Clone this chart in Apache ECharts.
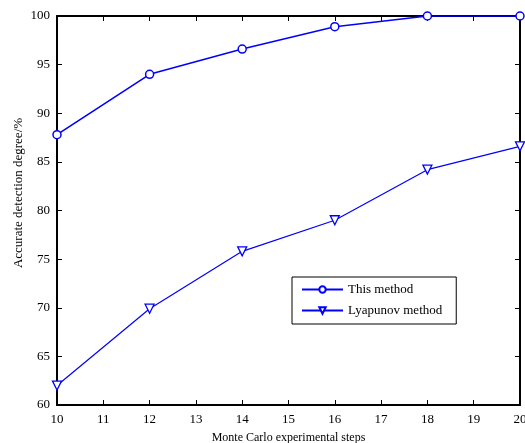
<!DOCTYPE html>
<html>
<head>
<meta charset="utf-8">
<script src="https://cdn.jsdelivr.net/npm/echarts@6/dist/echarts.min.js"></script>
<style>
  html, body { margin: 0; padding: 0; background: #fff; }
  #chart { width: 525px; height: 443px; }
</style>
</head>
<body>
<div id="chart"></div>
<script>
// data
const steps = [10, 12, 14, 16, 18, 20]
const thisMethod = [87.8, 94.0, 96.6, 98.9, 100, 100]
const lyapunov = [62.0, 69.9, 75.8, 79.0, 84.2, 86.6]
const seriesNames = ['This method', 'Lyapunov method']

const FONT = '"Liberation Serif", "DejaVu Serif", serif'
const BLUE = '#0000ff'

function pairs(ys) {
    return steps.map((x, i) => [x, ys[i]])
}

const myChart = echarts.init(document.getElementById('chart'))

const tickStyle = { show: true, inside: true, length: 5, lineStyle: { color: '#000', width: 1 } }
const axisLineStyle = { show: true, lineStyle: { color: '#000', width: 2 } }

myChart.setOption({
    animation: false,
    grid: { left: 57, right: 5, top: 16, bottom: 38, outerBoundsMode: 'none', containLabel: false },
    legend: {
        data: [
            { name: seriesNames[0] },
            { name: seriesNames[1] }
        ],
        orient: 'vertical',
        left: 292,
        top: 277,
        width: 170,
        padding: [6, 14, 7, 9],
        itemGap: 8,
        itemWidth: 41,
        itemHeight: 8,
        borderColor: '#000',
        borderWidth: 1,
        backgroundColor: '#fff',
        textStyle: { fontFamily: FONT, fontSize: 13, color: '#000' }
    },
    xAxis: [
        {
            type: 'value',
            min: 10, max: 20, interval: 1,
            name: 'Monte Carlo experimental steps',
            nameLocation: 'middle',
            nameGap: 27,
            nameTextStyle: { fontFamily: FONT, fontSize: 12, color: '#000' },
            axisLine: axisLineStyle,
            axisTick: tickStyle,
            axisLabel: { fontFamily: FONT, fontSize: 13, color: '#000', margin: 8 },
            splitLine: { show: false }
        },
        {
            type: 'value', position: 'top',
            min: 10, max: 20, interval: 1,
            axisLine: axisLineStyle,
            axisTick: tickStyle,
            axisLabel: { show: false },
            splitLine: { show: false }
        }
    ],
    yAxis: [
        {
            type: 'value',
            min: 60, max: 100, interval: 5,
            axisLine: axisLineStyle,
            axisTick: tickStyle,
            axisLabel: { fontFamily: FONT, fontSize: 13, color: '#000', margin: 7 },
            splitLine: { show: false }
        },
        {
            type: 'value', position: 'right',
            min: 60, max: 100, interval: 5,
            axisLine: axisLineStyle,
            axisTick: tickStyle,
            axisLabel: { show: false },
            splitLine: { show: false }
        }
    ],
    graphic: [
        {
            type: 'text',
            x: 19, y: 193,
            rotation: Math.PI / 2,
            style: {
                text: 'Accurate detection degree/%',
                font: '13px ' + FONT,
                fill: '#000',
                align: 'center',
                verticalAlign: 'middle'
            }
        }
    ],
    series: [
        {
            name: seriesNames[0],
            type: 'line',
            data: pairs(thisMethod),
            symbol: 'circle',
            symbolSize: 8,
            itemStyle: { color: '#fff', borderColor: BLUE, borderWidth: 1.5 },
            lineStyle: { color: BLUE, width: 1.6 },
            z: 3
        },
        {
            name: seriesNames[1],
            type: 'line',
            data: pairs(lyapunov),
            symbol: 'triangle',
            symbolRotate: 180,
            symbolSize: 9,
            itemStyle: { color: '#fff', borderColor: BLUE, borderWidth: 1.3 },
            lineStyle: { color: BLUE, width: 1.2 },
            z: 3
        }
    ]
})
</script>
</body>
</html>
